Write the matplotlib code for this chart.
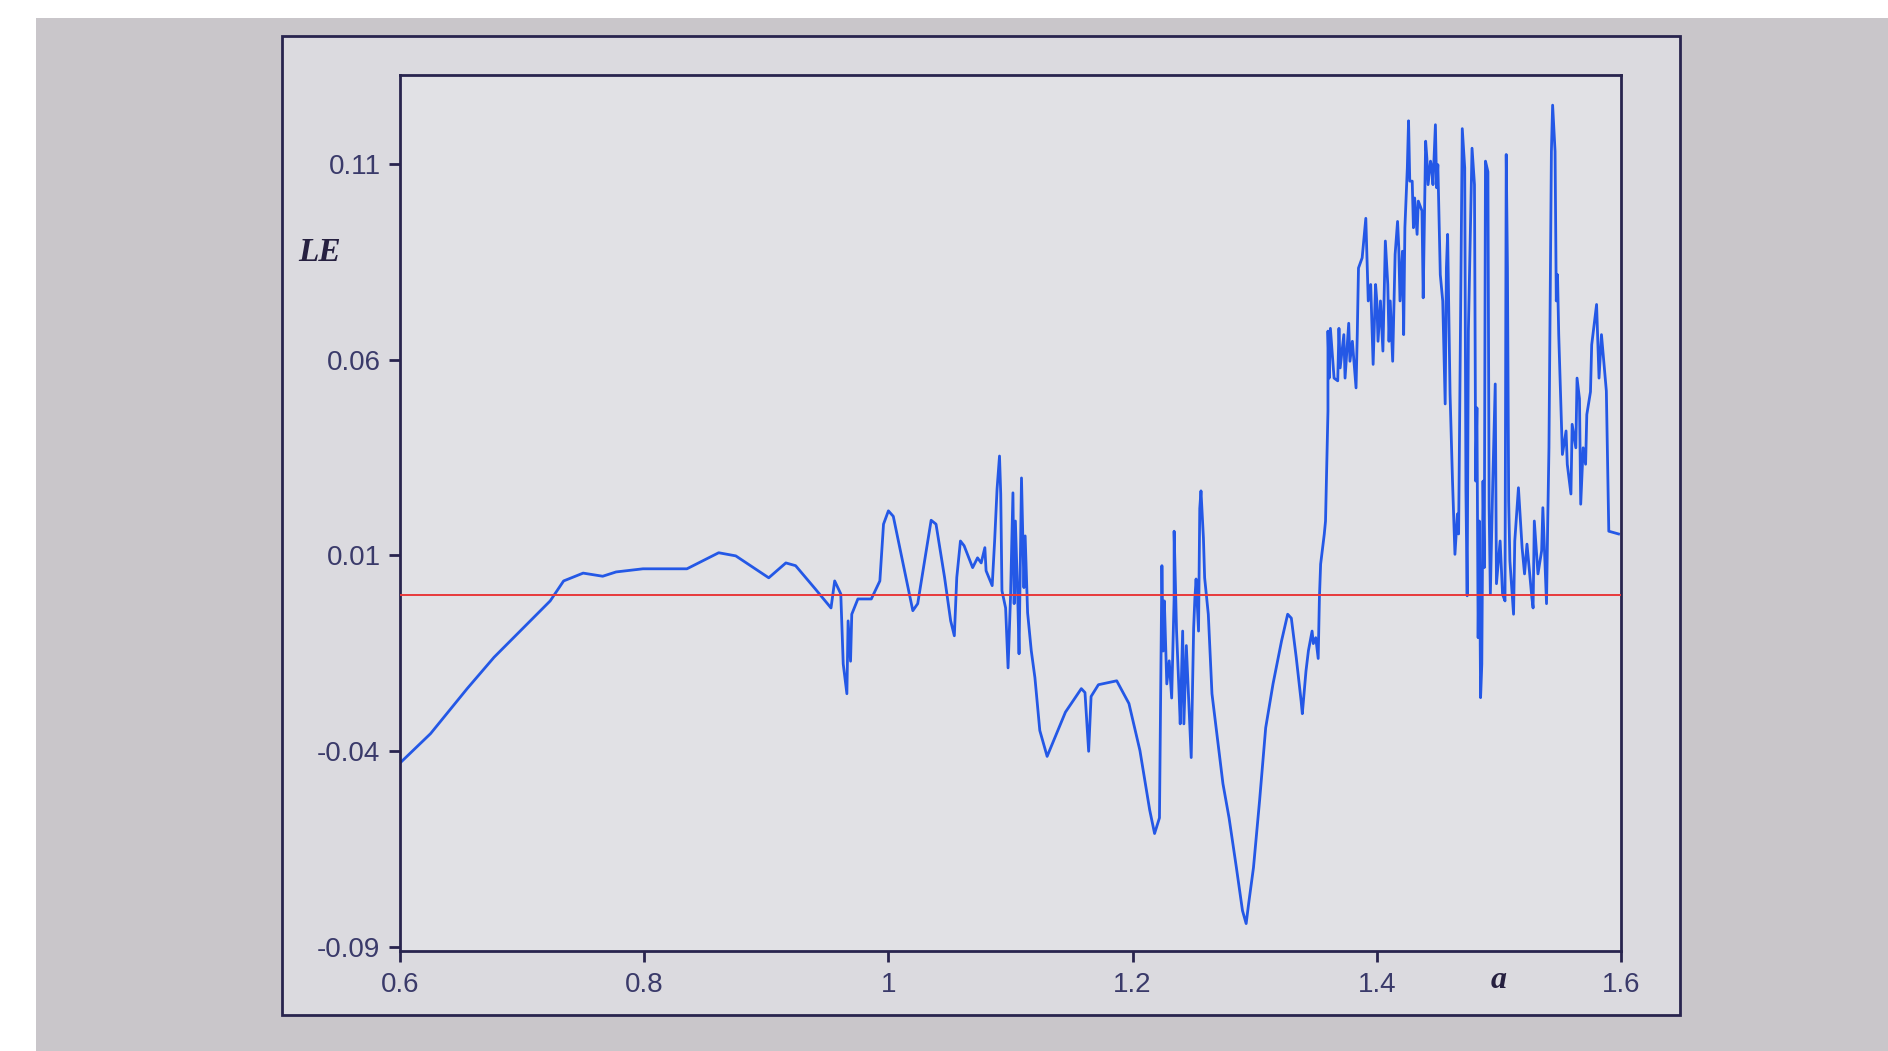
import matplotlib
matplotlib.use("Agg")
import matplotlib.pyplot as plt
from matplotlib.patches import Rectangle

# values (parameter a, Lyapunov exponent LE)
a_vals = [0.600, 0.625, 0.655, 0.677, 0.701, 0.723, 0.734, 0.750, 0.766, 0.777,
          0.799, 0.835, 0.861, 0.875, 0.902, 0.916, 0.924, 0.940, 0.953, 0.956,
          0.961, 0.963, 0.966, 0.967, 0.969, 0.970, 0.975, 0.986, 0.993, 0.996,
          1.000, 1.004, 1.010, 1.020, 1.024, 1.030, 1.035, 1.039, 1.046, 1.051,
          1.054, 1.056, 1.059, 1.062, 1.069, 1.073, 1.076, 1.079, 1.080, 1.085,
          1.087, 1.089, 1.091, 1.092, 1.093, 1.096, 1.098, 1.100, 1.102, 1.103,
          1.104, 1.106, 1.107, 1.109, 1.111, 1.112, 1.114, 1.117, 1.120, 1.124,
          1.130, 1.145, 1.158, 1.161, 1.164, 1.166, 1.172, 1.187, 1.197, 1.206,
          1.214, 1.218, 1.222, 1.223, 1.224, 1.225, 1.226, 1.228, 1.230, 1.232,
          1.234, 1.234, 1.236, 1.238, 1.239, 1.241, 1.242, 1.244, 1.246, 1.248,
          1.250, 1.251, 1.252, 1.254, 1.255, 1.256, 1.258, 1.259, 1.262, 1.265,
          1.269, 1.274, 1.279, 1.285, 1.290, 1.293, 1.295, 1.299, 1.304, 1.309,
          1.315, 1.322, 1.327, 1.330, 1.334, 1.338, 1.339, 1.342, 1.344, 1.347,
          1.348, 1.350, 1.352, 1.353, 1.354, 1.357, 1.358, 1.360, 1.360, 1.361,
          1.362, 1.365, 1.368, 1.369, 1.370, 1.373, 1.374, 1.377, 1.378, 1.380,
          1.383, 1.384, 1.385, 1.388, 1.391, 1.392, 1.393, 1.395, 1.397, 1.399,
          1.400, 1.401, 1.403, 1.405, 1.407, 1.409, 1.410, 1.411, 1.413, 1.415,
          1.417, 1.418, 1.419, 1.421, 1.422, 1.423, 1.425, 1.426, 1.427, 1.429,
          1.430, 1.431, 1.433, 1.434, 1.437, 1.438, 1.440, 1.441, 1.442, 1.444,
          1.445, 1.446, 1.448, 1.449, 1.450, 1.452, 1.454, 1.456, 1.457, 1.458,
          1.460, 1.462, 1.464, 1.466, 1.467, 1.470, 1.472, 1.473, 1.474, 1.475,
          1.478, 1.480, 1.481, 1.482, 1.483, 1.484, 1.485, 1.486, 1.487, 1.488,
          1.489, 1.491, 1.492, 1.493, 1.495, 1.497, 1.498, 1.501, 1.503, 1.505,
          1.506, 1.507, 1.508, 1.509, 1.512, 1.513, 1.516, 1.519, 1.521, 1.523,
          1.527, 1.528, 1.529, 1.532, 1.535, 1.536, 1.539, 1.540, 1.541, 1.543,
          1.544, 1.546, 1.547, 1.548, 1.549, 1.551, 1.552, 1.555, 1.556, 1.559,
          1.560, 1.563, 1.564, 1.566, 1.567, 1.569, 1.571, 1.572, 1.575, 1.576,
          1.580, 1.582, 1.584, 1.588, 1.590, 1.598]

le_vals = [-0.0430, -0.0355, -0.0240, -0.0160, -0.0085, -0.0016, 0.0035, 0.0055, 0.0047, 0.0058,
           0.0066, 0.0066, 0.0107, 0.0099, 0.0043, 0.0081, 0.0074, 0.0015, -0.0034, 0.0035,
           0.0002, -0.0177, -0.0253, -0.0067, -0.0170, -0.0050, -0.0011, -0.0011, 0.0035, 0.0180,
           0.0214, 0.0200, 0.0110, -0.0041, -0.0023, 0.0094, 0.0190, 0.0180, 0.0044, -0.0067,
           -0.0105, 0.0044, 0.0137, 0.0125, 0.0069, 0.0094, 0.0081, 0.0120, 0.0061, 0.0023,
           0.0137, 0.0270, 0.0354, 0.0257, 0.0010, -0.0034, -0.0187, -0.0008, 0.0260, -0.0023,
           0.0188, -0.0016, -0.0151, 0.0298, 0.0018, 0.0150, -0.0046, -0.0143, -0.0212, -0.0347,
           -0.0413, -0.0300, -0.0240, -0.0250, -0.0400, -0.0260, -0.0230, -0.0220, -0.0278, -0.0398,
           -0.0550, -0.0610, -0.0570, -0.0245, 0.0074, -0.0144, -0.0016, -0.0228, -0.0169, -0.0264,
           -0.0009, 0.0162, -0.0093, -0.0246, -0.0330, -0.0093, -0.0330, -0.0130, -0.0271, -0.0416,
           -0.0085, -0.0009, 0.0040, -0.0093, 0.0220, 0.0265, 0.0145, 0.0043, -0.0050, -0.0253,
           -0.0355, -0.0483, -0.0570, -0.0697, -0.0807, -0.0840, -0.0790, -0.0697, -0.0526, -0.0340,
           -0.0228, -0.0118, -0.0050, -0.0060, -0.0160, -0.0271, -0.0304, -0.0195, -0.0143, -0.0093,
           -0.0125, -0.0110, -0.0163, -0.0008, 0.0078, 0.0155, 0.0188, 0.0469, 0.0673, 0.0553,
           0.0680, 0.0553, 0.0546, 0.0680, 0.0579, 0.0664, 0.0553, 0.0693, 0.0596, 0.0647,
           0.0528, 0.0664, 0.0834, 0.0860, 0.0961, 0.0852, 0.0750, 0.0792, 0.0588, 0.0792,
           0.0750, 0.0647, 0.0750, 0.0622, 0.0903, 0.0792, 0.0647, 0.0750, 0.0596, 0.0869,
           0.0953, 0.0886, 0.0750, 0.0877, 0.0664, 0.0937, 0.1090, 0.1210, 0.1056, 0.1056,
           0.0937, 0.1013, 0.0920, 0.1005, 0.0980, 0.0758, 0.1158, 0.1115, 0.1047, 0.1107,
           0.1090, 0.1047, 0.1200, 0.1039, 0.1098, 0.0817, 0.0750, 0.0487, 0.0834, 0.0920,
           0.0512, 0.0290, 0.0103, 0.0206, 0.0155, 0.1190, 0.1090, 0.0265, -0.0003, 0.0673,
           0.1140, 0.1047, 0.0290, 0.0477, -0.0110, 0.0188, -0.0263, -0.0177, 0.0290, 0.0069,
           0.1107, 0.1080, 0.0222, 0.0001, 0.0290, 0.0538, 0.0028, 0.0137, 0.0001, -0.0016,
           0.1124, 0.0834, 0.0240, 0.0086, -0.0050, 0.0137, 0.0273, 0.0120, 0.0053, 0.0129,
           -0.0008, -0.0034, 0.0188, 0.0053, 0.0112, 0.0222, -0.0023, 0.0188, 0.0375, 0.1132,
           0.1250, 0.1132, 0.0750, 0.0817, 0.0664, 0.0460, 0.0358, 0.0418, 0.0333, 0.0257,
           0.0435, 0.0375, 0.0553, 0.0500, 0.0231, 0.0375, 0.0333, 0.0460, 0.0518, 0.0638,
           0.0741, 0.0553, 0.0664, 0.0520, 0.0162, 0.0155]

x_ticks = [0.6, 0.8, 1.0, 1.2, 1.4, 1.6]
x_ticklabels = ["0.6", "0.8", "1", "1.2", "1.4", "1.6"]
y_ticks = [-0.09, -0.04, 0.01, 0.06, 0.11]
y_ticklabels = ["-0.09", "-0.04", "0.01", "0.06", "0.11"]

W, H = 1888, 1051
navy = "#28244e"

fig = plt.figure(figsize=(W / 100, H / 100), dpi=100)
fig.patch.set_facecolor("#c9c6ca")

# white photo edges (left and top)
fig.add_artist(Rectangle((0, 0), 36 / W, 1, transform=fig.transFigure,
                         facecolor="white", edgecolor="none", zorder=-3))
fig.add_artist(Rectangle((0, 1 - 18 / H), 1, 18 / H, transform=fig.transFigure,
                         facecolor="white", edgecolor="none", zorder=-3))

# outer window frame
fig.add_artist(Rectangle((282 / W, 1 - 1015 / H), (1680 - 282) / W, (1015 - 36) / H,
                         transform=fig.transFigure, facecolor="#dbdadf",
                         edgecolor=navy, linewidth=2, zorder=-2))

ax = fig.add_axes([400 / W, 1 - 951 / H, 1221 / W, 876 / H])
ax.set_facecolor("#e1e1e5")

ax.plot(a_vals, le_vals, color="#2458e6", linewidth=2.0, zorder=2)
ax.axhline(0, color="#e8393b", linewidth=1.4, zorder=3)

ax.set_xlim(0.6, 1.6)
ax.set_ylim(-0.091, 0.1327)
ax.set_xticks(x_ticks)
ax.set_xticklabels(x_ticklabels)
ax.set_yticks(y_ticks)
ax.set_yticklabels(y_ticklabels)

for s in ax.spines.values():
    s.set_color(navy)
    s.set_linewidth(2)
ax.tick_params(axis="both", direction="out", length=8, width=2, color=navy,
               labelsize=20, labelcolor="#3a3a6a")
ax.tick_params(axis="x", pad=7)
ax.tick_params(axis="y", pad=6)
for lbl in ax.get_xticklabels() + ax.get_yticklabels():
    lbl.set_family("Liberation Sans")

ax.text(-0.066, 0.797, "LE", transform=ax.transAxes, ha="center", va="center",
        family="Liberation Serif", weight="bold", style="italic", fontsize=24, color="#262040")
ax.text(0.900, -0.034, "a", transform=ax.transAxes, ha="center", va="center",
        family="Liberation Serif", weight="bold", style="italic", fontsize=23, color="#262040")

fig.savefig("out.png", dpi=100, facecolor=fig.get_facecolor())
